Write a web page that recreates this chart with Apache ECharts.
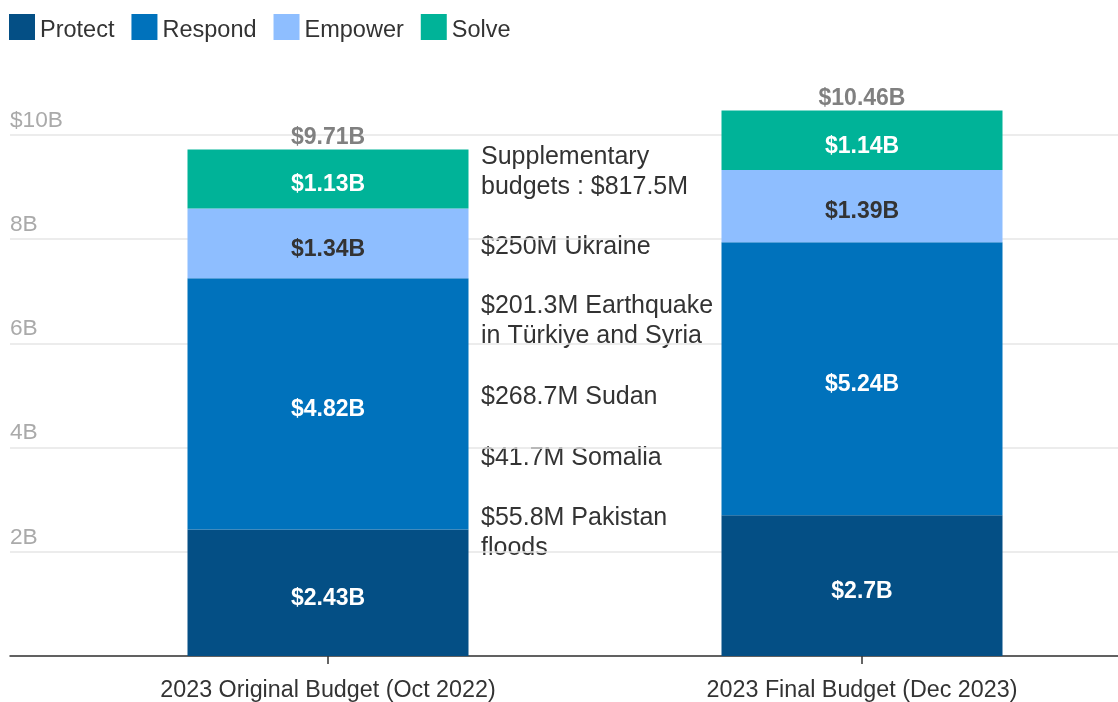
<!DOCTYPE html>
<html>
<head>
<meta charset="utf-8">
<script src="https://cdn.jsdelivr.net/npm/echarts@6/dist/echarts.min.js"></script>
<style>html,body{margin:0;padding:0;background:#fff}#c{width:1118px;height:702px}</style>
</head>
<body>
<div id="c"></div>
<script>
const categories = ['2023 Original Budget (Oct 2022)', '2023 Final Budget (Dec 2023)'];
const protect = [2.43, 2.7];
const respond = [4.82, 5.24];
const empower = [1.34, 1.39];
const solve = [1.13, 1.14];
const totals = [9.71, 10.46];
const yTicks = [0, 2, 4, 6, 8, 10];
const notes = [
  'Supplementary\nbudgets : $817.5M',
  '$250M Ukraine',
  '$201.3M Earthquake\nin Türkiye and Syria',
  '$268.7M Sudan',
  '$41.7M Somalia',
  '$55.8M Pakistan\nfloods'
];

const FONT = '"Liberation Sans", Arial, sans-serif';
const colors = ['#044F85', '#0072BC', '#8EBEFF', '#00B398'];
const fmt = v => '$' + v + 'B';

function seg(name, data, color, labelColor) {
  return {
    name, type: 'bar', stack: 'b', data, barWidth: 281, clip: false,
    xAxisIndex: 0, yAxisIndex: 0,
    itemStyle: { color },
    label: { show: true, position: 'inside', offset: [0, 6], color: labelColor, fontFamily: FONT,
      fontSize: 23, fontWeight: 'bold', formatter: p => fmt(p.value) },
    emphasis: { disabled: true }
  };
}

const noteTops = [142, 232, 291, 382, 443, 503];
const graphic = notes.map((t, i) => ({
  type: 'text', left: 481, top: noteTops[i],
  style: { text: t, fontFamily: FONT, fontSize: 25, lineHeight: 30, fill: '#333' }
}));

const chart = echarts.init(document.getElementById('c'), null, { renderer: 'canvas' });
chart.setOption({
  animation: false,
  legend: {
    data: ['Protect', 'Respond', 'Empower', 'Solve'],
    left: 9, top: 14, padding: 0, itemWidth: 26, itemHeight: 26, itemGap: 17,
    icon: 'rect',
    formatter: n => '{t|' + n + '}',
    textStyle: { fontFamily: FONT, fontSize: 23.5, color: '#333',
      rich: { t: { fontFamily: FONT, fontSize: 23.5, color: '#333', padding: [7, 0, 0, 0] } } },
    selectedMode: false
  },
  grid: [
    { left: 61, width: 1068, top: 135, bottom: 46, outerBoundsMode: 'none', containLabel: false },
    { left: 10, right: 0, top: 135, bottom: 46, outerBoundsMode: 'none', containLabel: false }
  ],
  xAxis: [
    { type: 'category', gridIndex: 0, data: categories,
      axisLine: { show: false },
      axisTick: { show: true, alignWithLabel: true, length: 8, lineStyle: { color: '#333', width: 1.5 } },
      axisLabel: { fontFamily: FONT, fontSize: 23.3, color: '#333', margin: 23 } },
    { type: 'category', gridIndex: 1, data: [''],
      axisLine: { show: true, lineStyle: { color: '#333', width: 1.5 } },
      axisTick: { show: false }, axisLabel: { show: false } }
  ],
  yAxis: [
    { type: 'value', gridIndex: 0, min: 0, max: 10, interval: 2, show: false, splitLine: { show: false } },
    { type: 'value', gridIndex: 1, min: yTicks[0], max: yTicks[yTicks.length - 1], interval: 2,
      axisLine: { show: false }, axisTick: { show: false },
      splitLine: { lineStyle: { color: '#e6e6e6', width: 1.5 } },
      axisLabel: { inside: true, margin: 0, verticalAlign: 'bottom', padding: [0, 0, 3, 0],
        fontFamily: FONT, fontSize: 22.7, color: '#aaa',
        formatter: v => v === 0 ? '' : (v === 10 ? '$10B' : v + 'B') } }
  ],
  series: [
    seg('Protect', protect, colors[0], '#fff'),
    seg('Respond', respond, colors[1], '#fff'),
    seg('Empower', empower, colors[2], '#333'),
    seg('Solve', solve, colors[3], '#fff'),
    { name: 'Total', type: 'bar', stack: 'b', data: totals.map(() => 0), barWidth: 281, clip: false,
      itemStyle: { color: 'transparent' },
      label: { show: true, position: 'top', distance: 0, color: '#808080', fontFamily: FONT,
        fontSize: 23, fontWeight: 'bold', formatter: p => fmt(totals[p.dataIndex]) },
      emphasis: { disabled: true } }
  ],
  graphic
});
</script>
</body>
</html>
